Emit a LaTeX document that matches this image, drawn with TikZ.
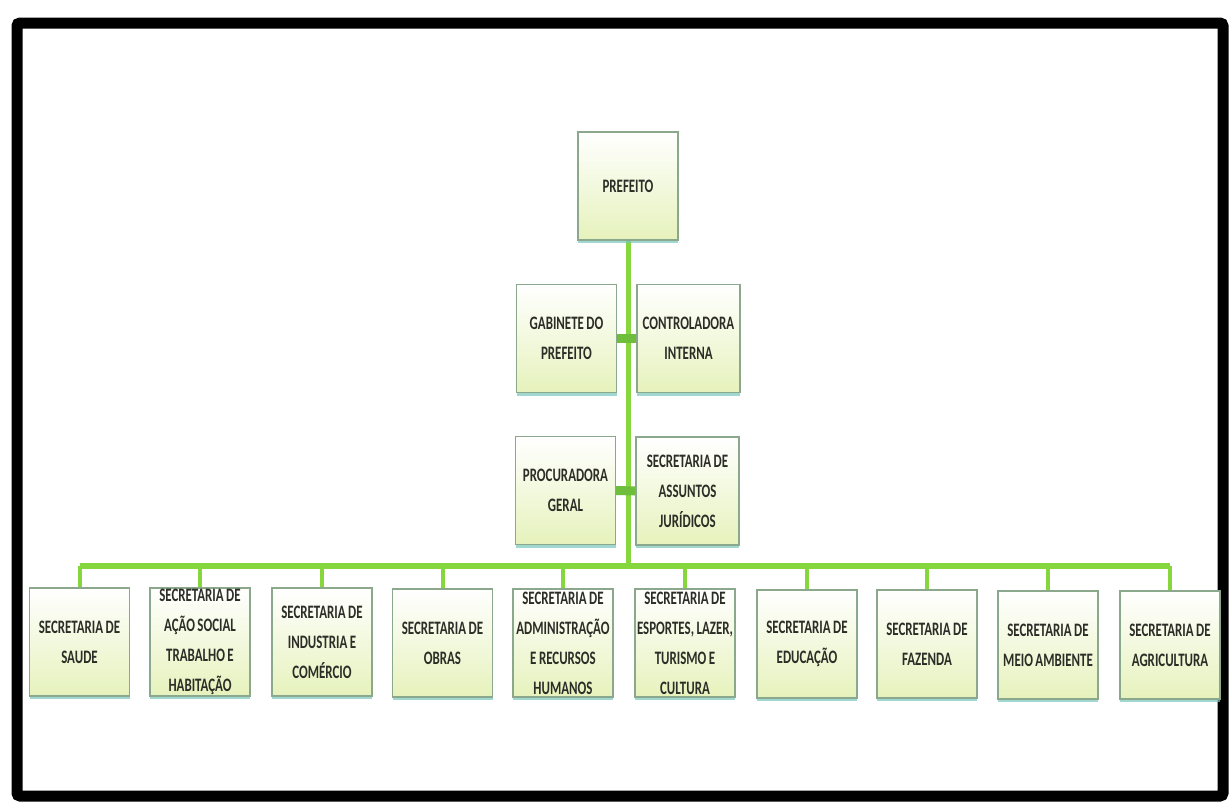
\documentclass[tikz,border=0pt]{standalone}
\usepackage{fontspec}
\newfontfamily\boxfont{Carlito}[FakeStretch=0.68, WordSpace=0.85]
\usetikzlibrary{backgrounds}
\definecolor{orgline}{RGB}{134,214,62}
\definecolor{orgstub}{RGB}{110,190,60}
\definecolor{boxedge}{RGB}{140,168,140}
\definecolor{boxbot}{RGB}{230,242,188}
\definecolor{boxshadow}{RGB}{120,200,190}
\definecolor{boxtext}{RGB}{45,45,40}
\begin{document}
\begin{tikzpicture}[x=1pt,y=-1pt,
  orgbox/.style={draw=boxedge, line width=1.2pt, top color=white, bottom color=boxbot,
    preaction={fill=boxshadow, opacity=0.7, transform canvas={yshift=-3pt}},
    minimum width=100pt, minimum height=108pt, inner sep=0pt,
    align=center, text=boxtext,
    font=\boxfont\bfseries\fontsize{19}{30}\selectfont},
  trunk/.style={draw=orgline, line width=5pt},
  bar/.style={draw=orgline, line width=6.5pt},
  stub/.style={draw=orgline, line width=4pt},
  side/.style={draw=orgstub, line width=9pt}]
\useasboundingbox (0,0) rectangle (1229,804);

\node[orgbox] (pref) at (628,186) {PREFEITO};
\node[orgbox] (gab) at (566.5,338.5) {GABINETE DO\\PREFEITO};
\node[orgbox, minimum width=103pt] (ctrl) at (688.5,338.5) {CONTROLADORA\\INTERNA};
\node[orgbox] (proc) at (565.5,490.5) {PROCURADORA\\GERAL};
\node[orgbox, minimum width=103pt] (juri) at (687.5,491) {SECRETARIA DE\\ASSUNTOS\\JURÍDICOS};

\node[orgbox] (s1) at (79.5,642) {SECRETARIA DE\\SAUDE};
\node[orgbox] (s2) at (200,642) {SECRETARIA DE\\AÇÃO SOCIAL\\TRABALHO E\\HABITAÇÃO};
\node[orgbox] (s3) at (322,642) {SECRETARIA DE\\INDUSTRIA E\\COMÉRCIO};
\node[orgbox] (s4) at (442.5,643) {SECRETARIA DE\\OBRAS};
\node[orgbox] (s5) at (563,643) {SECRETARIA DE\\ADMINISTRAÇÃO\\E RECURSOS\\HUMANOS};
\node[orgbox] (s6) at (685,643) {SECRETARIA DE\\ESPORTES, LAZER,\\TURISMO E\\CULTURA};
\node[orgbox] (s7) at (807,644) {SECRETARIA DE\\EDUCAÇÃO};
\node[orgbox] (s8) at (927,644) {SECRETARIA DE\\FAZENDA};
\node[orgbox] (s9) at (1048,645) {SECRETARIA DE\\MEIO AMBIENTE};
\node[orgbox] (s10) at (1170,645) {SECRETARIA DE\\AGRICULTURA};

\coordinate (barY) at (0,566);

\begin{scope}[on background layer]
  \fill[white] (0,0) rectangle (1229,804);
  \draw[line width=11pt, black, rounded corners=3pt] (17,23) rectangle (1223,796);
  \path[trunk] (pref.south) -- (pref.south |- barY);
  \path[bar] (s1 |- barY) -- (s10 |- barY);
  \foreach \n in {s1,s2,s3,s4,s5,s6,s7,s8,s9,s10}
    \path[stub] (\n |- barY) -- (\n.north);
  \path[side] (gab.east) -- (ctrl.west);
  \path[side] (proc.east) -- (juri.west);
\end{scope}
\end{tikzpicture}
\end{document}
